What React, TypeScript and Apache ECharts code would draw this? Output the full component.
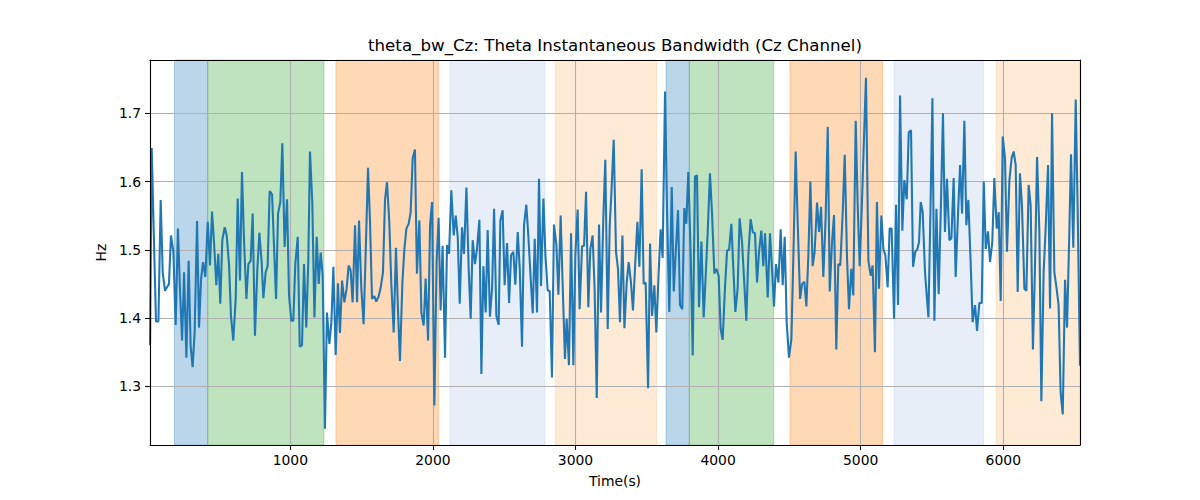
import React, { useEffect, useRef } from "react";
import * as echarts from "echarts";

const TITLE = "theta_bw_Cz: Theta Instantaneous Bandwidth (Cz Channel)";
const X_NAME = "Time(s)";
const Y_NAME = "Hz";

const X_MIN = 16;
const X_MAX = 6538;
const Y_MIN = 1.214;
const Y_MAX = 1.778;
const X_TICKS = [1000, 2000, 3000, 4000, 5000, 6000];
const Y_TICKS = [1.3, 1.4, 1.5, 1.6, 1.7];

const times = [
  16, 28, 43, 58, 75, 91, 105, 121, 135, 149, 163, 180, 196, 212, 226, 241, 255, 271, 287, 301,
  315, 329, 346, 360, 374, 388, 404, 421, 437, 451, 465, 481, 495, 509, 523, 540, 554, 570, 584, 600,
  617, 631, 647, 661, 675, 692, 706, 722, 736, 752, 769, 783, 799, 811, 827, 841, 855, 872, 886, 900,
  914, 930, 944, 960, 977, 991, 1007, 1021, 1035, 1052, 1066, 1082, 1096, 1112, 1126, 1138, 1154, 1169, 1185, 1199,
  1213, 1227, 1243, 1257, 1274, 1288, 1302, 1318, 1334, 1348, 1363, 1379, 1395, 1409, 1423, 1437, 1454, 1468, 1482, 1498,
  1514, 1528, 1545, 1559, 1573, 1589, 1603, 1620, 1634, 1650, 1664, 1678, 1694, 1708, 1725, 1741, 1755, 1769, 1786, 1800,
  1814, 1830, 1844, 1858, 1874, 1888, 1905, 1919, 1935, 1949, 1966, 1980, 1994, 2010, 2026, 2040, 2054, 2068, 2085, 2099,
  2113, 2129, 2146, 2160, 2174, 2188, 2204, 2218, 2235, 2251, 2265, 2279, 2295, 2309, 2326, 2340, 2354, 2370, 2384, 2400,
  2415, 2429, 2445, 2461, 2473, 2489, 2503, 2520, 2534, 2548, 2564, 2578, 2595, 2609, 2625, 2639, 2655, 2669, 2686, 2700,
  2714, 2730, 2744, 2758, 2775, 2789, 2805, 2819, 2835, 2849, 2866, 2880, 2896, 2910, 2926, 2938, 2954, 2969, 2985, 2999,
  3015, 3029, 3046, 3060, 3074, 3090, 3104, 3120, 3134, 3149, 3165, 3179, 3195, 3209, 3226, 3240, 3251, 3268, 3284, 3298,
  3312, 3329, 3343, 3359, 3373, 3389, 3403, 3417, 3434, 3448, 3464, 3478, 3492, 3509, 3523, 3537, 3553, 3567, 3583, 3597,
  3611, 3628, 3642, 3658, 3675, 3689, 3703, 3719, 3733, 3749, 3763, 3777, 3791, 3808, 3822, 3838, 3852, 3866, 3883, 3899,
  3913, 3927, 3943, 3957, 3974, 3988, 4004, 4018, 4032, 4048, 4063, 4077, 4093, 4107, 4121, 4137, 4151, 4168, 4182, 4198,
  4212, 4228, 4243, 4259, 4273, 4287, 4303, 4317, 4329, 4348, 4364, 4378, 4392, 4406, 4423, 4439, 4453, 4467, 4481, 4497,
  4514, 4528, 4544, 4558, 4575, 4589, 4605, 4619, 4633, 4647, 4663, 4677, 4694, 4708, 4722, 4738, 4754, 4769, 4783, 4799,
  4813, 4829, 4843, 4857, 4874, 4888, 4904, 4918, 4934, 4948, 4965, 4979, 4993, 5009, 5023, 5037, 5054, 5070, 5084, 5100,
  5114, 5128, 5145, 5159, 5173, 5189, 5203, 5217, 5234, 5248, 5262, 5276, 5292, 5306, 5323, 5337, 5353, 5367, 5383, 5397,
  5409, 5421, 5435, 5451, 5465, 5475, 5489, 5503, 5517, 5531, 5547, 5562, 5577, 5591, 5605, 5622, 5636, 5652, 5666, 5683,
  5697, 5711, 5727, 5741, 5755, 5771, 5785, 5802, 5816, 5832, 5849, 5863, 5877, 5893, 5907, 5923, 5937, 5954, 5968, 5982,
  5996, 6012, 6026, 6043, 6059, 6073, 6087, 6101, 6117, 6131, 6148, 6162, 6178, 6192, 6208, 6222, 6237, 6253, 6267, 6283,
  6297, 6314, 6328, 6342, 6358, 6374, 6388, 6402, 6417, 6433, 6447, 6461, 6475, 6491, 6508, 6522, 6538,
];

const bandwidth = [
  1.36, 1.649, 1.52, 1.395, 1.395, 1.573, 1.467, 1.44, 1.445, 1.45, 1.521, 1.497, 1.39, 1.531, 1.443, 1.367, 1.467, 1.342, 1.484, 1.359,
  1.328, 1.379, 1.542, 1.386, 1.457, 1.482, 1.46, 1.541, 1.477, 1.556, 1.511, 1.448, 1.494, 1.421, 1.514, 1.533, 1.521, 1.479, 1.403, 1.367,
  1.428, 1.575, 1.455, 1.614, 1.516, 1.428, 1.479, 1.484, 1.553, 1.374, 1.472, 1.525, 1.482, 1.429, 1.467, 1.476, 1.586, 1.581, 1.504, 1.428,
  1.553, 1.57, 1.656, 1.504, 1.574, 1.433, 1.396, 1.396, 1.479, 1.519, 1.358, 1.36, 1.479, 1.386, 1.482, 1.644, 1.57, 1.401, 1.519, 1.45,
  1.496, 1.462, 1.238, 1.408, 1.362, 1.394, 1.475, 1.346, 1.451, 1.378, 1.455, 1.423, 1.443, 1.477, 1.47, 1.423, 1.536, 1.423, 1.543, 1.443,
  1.391, 1.492, 1.62, 1.541, 1.428, 1.432, 1.424, 1.432, 1.445, 1.467, 1.573, 1.599, 1.541, 1.452, 1.379, 1.503, 1.413, 1.337, 1.452, 1.501,
  1.531, 1.538, 1.555, 1.634, 1.647, 1.465, 1.543, 1.408, 1.389, 1.458, 1.367, 1.536, 1.57, 1.272, 1.482, 1.547, 1.411, 1.506, 1.342, 1.507,
  1.494, 1.587, 1.521, 1.55, 1.519, 1.421, 1.533, 1.494, 1.591, 1.472, 1.399, 1.514, 1.479, 1.501, 1.544, 1.318, 1.476, 1.408, 1.529, 1.402,
  1.443, 1.56, 1.403, 1.39, 1.543, 1.558, 1.448, 1.51, 1.422, 1.492, 1.497, 1.449, 1.526, 1.472, 1.358, 1.536, 1.566, 1.521, 1.457, 1.407,
  1.516, 1.408, 1.604, 1.447, 1.575, 1.492, 1.44, 1.44, 1.313, 1.537, 1.507, 1.434, 1.55, 1.448, 1.34, 1.399, 1.331, 1.524, 1.331, 1.492,
  1.559, 1.413, 1.505, 1.506, 1.585, 1.416, 1.501, 1.521, 1.443, 1.283, 1.537, 1.408, 1.546, 1.632, 1.384, 1.536, 1.58, 1.661, 1.497, 1.472,
  1.394, 1.521, 1.385, 1.452, 1.482, 1.452, 1.411, 1.472, 1.541, 1.475, 1.618, 1.45, 1.452, 1.297, 1.509, 1.403, 1.448, 1.379, 1.467, 1.53,
  1.488, 1.732, 1.555, 1.409, 1.592, 1.439, 1.497, 1.558, 1.419, 1.413, 1.561, 1.538, 1.614, 1.492, 1.345, 1.607, 1.609, 1.416, 1.512, 1.401,
  1.462, 1.525, 1.612, 1.555, 1.465, 1.472, 1.462, 1.384, 1.368, 1.443, 1.499, 1.5, 1.538, 1.472, 1.409, 1.443, 1.546, 1.511, 1.457, 1.396,
  1.492, 1.545, 1.526, 1.524, 1.452, 1.497, 1.528, 1.476, 1.524, 1.43, 1.524, 1.472, 1.417, 1.479, 1.452, 1.53, 1.448, 1.519, 1.394, 1.342,
  1.369, 1.492, 1.644, 1.541, 1.428, 1.45, 1.453, 1.417, 1.492, 1.6, 1.476, 1.497, 1.569, 1.526, 1.563, 1.46, 1.546, 1.68, 1.439, 1.511,
  1.551, 1.354, 1.479, 1.477, 1.555, 1.639, 1.489, 1.413, 1.472, 1.433, 1.689, 1.565, 1.476, 1.57, 1.663, 1.752, 1.484, 1.462, 1.477, 1.35,
  1.57, 1.443, 1.55, 1.501, 1.492, 1.445, 1.531, 1.531, 1.399, 1.566, 1.419, 1.726, 1.528, 1.602, 1.574, 1.672, 1.675, 1.475, 1.497, 1.501,
  1.511, 1.57, 1.555, 1.467, 1.428, 1.401, 1.555, 1.722, 1.396, 1.56, 1.435, 1.56, 1.7, 1.526, 1.604, 1.514, 1.517, 1.605, 1.46, 1.555,
  1.624, 1.553, 1.689, 1.536, 1.573, 1.482, 1.394, 1.419, 1.381, 1.422, 1.422, 1.6, 1.501, 1.527, 1.482, 1.511, 1.605, 1.531, 1.555, 1.425,
  1.666, 1.634, 1.497, 1.602, 1.635, 1.644, 1.624, 1.438, 1.612, 1.565, 1.443, 1.44, 1.595, 1.565, 1.354, 1.472, 1.636, 1.526, 1.278, 1.467,
  1.531, 1.624, 1.414, 1.7, 1.467, 1.443, 1.419, 1.291, 1.259, 1.456, 1.386, 1.506, 1.64, 1.503, 1.72, 1.555, 1.33,
];

// state spans: start, end, kind
const spanStarts = [187, 421, 1320, 2120, 2858, 3635, 3798, 4504, 5234, 5949];
const spanEnds = [421, 1236, 2040, 2786, 3569, 3798, 4390, 5154, 5862, 6538];
const spanKinds = ["blue", "green", "orange", "lightblue", "lightorange", "blue", "green", "orange", "lightblue", "lightorange"];

const KIND_COLORS: Record<string, string> = {
  blue: "rgba(31,119,180,0.3)",
  green: "rgba(44,160,44,0.3)",
  orange: "rgba(255,127,14,0.3)",
  lightblue: "rgba(174,199,232,0.3)",
  lightorange: "rgba(255,187,120,0.3)",
};

const FONT = "DejaVu Sans";

export default function App() {
  const ref = useRef<HTMLDivElement>(null);

  useEffect(() => {
    if (!ref.current) return;
    const chart = echarts.init(ref.current, undefined, { renderer: "svg" });

    const lineData = times.map((t, i) => [t, bandwidth[i]]);
    const areaData = spanStarts.map((s, i) => [
      {
        xAxis: s,
        itemStyle: {
          color: KIND_COLORS[spanKinds[i]],
          borderColor: KIND_COLORS[spanKinds[i]],
          borderWidth: 1,
        },
      },
      { xAxis: spanEnds[i] },
    ]);
    const gridLines = [
      ...Y_TICKS.map((v) => ({ yAxis: v })),
      ...X_TICKS.map((v) => ({ xAxis: v })),
    ];

    const axisCommon = {
      axisLine: { show: true, lineStyle: { color: "#000", width: 1.1 } },
      splitLine: { show: false },
      z: 10,
    };

    chart.setOption({
      animation: false,
      backgroundColor: "#fff",
      grid: { left: 150, right: 120, top: 60, bottom: 55, containLabel: false },
      graphic: [
        {
          type: "text",
          x: 615,
          y: 45.5,
          style: {
            text: TITLE,
            fontFamily: FONT,
            fontSize: 16.67,
            fill: "#000",
            align: "center",
            verticalAlign: "middle",
            textAlign: "center",
            textVerticalAlign: "middle",
          },
        },
      ],
      xAxis: [
        {
          ...axisCommon,
          type: "value",
          min: X_MIN,
          max: X_MAX,
          position: "bottom",
          name: X_NAME,
          nameLocation: "middle",
          nameGap: 29,
          nameTextStyle: { fontFamily: FONT, fontSize: 13.9, color: "#000" },
          axisTick: {
            show: true,
            length: 4.9,
            customValues: X_TICKS,
            lineStyle: { color: "#000", width: 1.1 },
          },
          axisLabel: {
            customValues: X_TICKS,
            margin: 8,
            fontFamily: FONT,
            fontSize: 13.9,
            color: "#000",
            formatter: (v: number) => String(Math.round(v)),
          },
        },
        {
          ...axisCommon,
          type: "value",
          min: X_MIN,
          max: X_MAX,
          position: "top",
          axisTick: { show: false },
          axisLabel: { show: false },
        },
      ],
      yAxis: [
        {
          ...axisCommon,
          type: "value",
          min: Y_MIN,
          max: Y_MAX,
          position: "left",
          name: Y_NAME,
          nameLocation: "middle",
          nameGap: 38,
          nameTextStyle: { fontFamily: FONT, fontSize: 13.9, color: "#000" },
          axisTick: {
            show: true,
            length: 4.9,
            customValues: Y_TICKS,
            lineStyle: { color: "#000", width: 1.1 },
          },
          axisLabel: {
            customValues: Y_TICKS,
            margin: 9,
            fontFamily: FONT,
            fontSize: 13.9,
            color: "#000",
            formatter: (v: number) => v.toFixed(1),
          },
        },
        {
          ...axisCommon,
          type: "value",
          min: Y_MIN,
          max: Y_MAX,
          position: "right",
          axisTick: { show: false },
          axisLabel: { show: false },
        },
      ],
      series: [
        {
          type: "line",
          name: "spans",
          data: [],
          silent: true,
          z: 1,
          markArea: { silent: true, z: 1, data: areaData, label: { show: false } },
        },
        {
          type: "line",
          name: "grid",
          data: [],
          silent: true,
          z: 2,
          markLine: {
            silent: true,
            z: 2,
            symbol: ["none", "none"],
            label: { show: false },
            lineStyle: { color: "#b0b0b0", width: 1.1, type: "solid" },
            emphasis: { disabled: true },
            data: gridLines,
          },
        },
        {
          type: "line",
          name: "theta_bw_Cz",
          data: lineData,
          showSymbol: false,
          symbol: "none",
          z: 3,
          lineStyle: { color: "#1f77b4", width: 2.08 },
          clip: true,
        },
      ],
    });

    return () => chart.dispose();
  }, []);

  return (
    <div
      ref={ref}
      style={{ position: "absolute", left: 0, top: 0, width: 1200, height: 500 }}
    />
  );
}
